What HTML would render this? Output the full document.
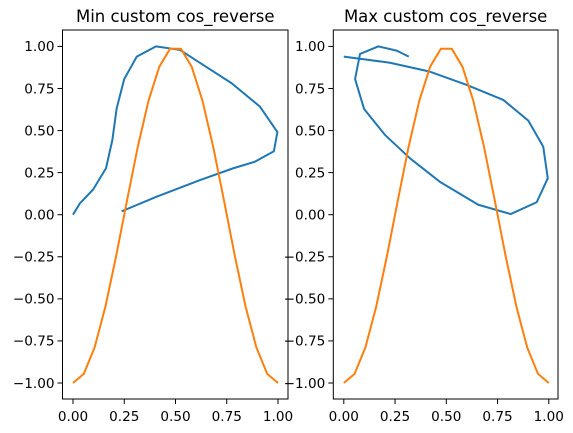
<!DOCTYPE html>
<html><head><meta charset="utf-8"><style>
html,body{margin:0;padding:0;background:#fff;}
svg{display:block;font-family:"DejaVu Sans","Liberation Sans",sans-serif;}
</style></head><body>
<svg id="fig" width="573" height="433" viewBox="0 0 573 433" xmlns="http://www.w3.org/2000/svg"></svg>
<script>
const orangeX = [0,0.0526,0.1053,0.1579,0.2105,0.2632,0.3158,0.3684,0.4211,0.4737,0.5263,0.5789,0.6316,0.6842,0.7368,0.7895,0.8421,0.8947,0.9474,1];
const orangeY = [-1,-0.9458,-0.7891,-0.5469,-0.2455,0.0826,0.4017,0.6773,0.8795,0.9864,0.9864,0.8795,0.6773,0.4017,0.0826,-0.2455,-0.5469,-0.7891,-0.9458,-1];
const minBlueX = [0.0,0.034,0.099,0.161,0.192,0.213,0.25,0.311,0.405,0.522,0.636,0.774,0.912,0.997,0.98,0.888,0.782,0.62,0.408,0.237];
const minBlueY = [0.0,0.068,0.151,0.276,0.444,0.632,0.806,0.939,1.0,0.979,0.889,0.781,0.642,0.491,0.377,0.315,0.276,0.206,0.107,0.02];
const maxBlueX = [0.0,0.225,0.42,0.6,0.778,0.9,0.973,0.995,0.941,0.814,0.656,0.468,0.323,0.201,0.099,0.055,0.079,0.168,0.258,0.317];
const maxBlueY = [0.939,0.903,0.85,0.771,0.682,0.559,0.404,0.216,0.074,0.004,0.059,0.196,0.335,0.474,0.628,0.806,0.955,1.0,0.975,0.939];
const xTicks = [0,0.25,0.5,0.75,1.0];
const xTickLabels = ["0.00","0.25","0.50","0.75","1.00"];
const yTicks = [1,0.75,0.5,0.25,0,-0.25,-0.5,-0.75,-1];
const yTickLabels = ["1.00","0.75","0.50","0.25","0.00","\u22120.25","\u22120.50","\u22120.75","\u22121.00"];
const titles = ["Min custom cos_reverse","Max custom cos_reverse"];

const NS = "http://www.w3.org/2000/svg";
const svgEl = document.getElementById('fig');
function mk(tag, attrs, parent){const e=document.createElementNS(NS,tag);for(const k in attrs)e.setAttribute(k,attrs[k]);(parent||svgEl).appendChild(e);return e;}

const panels = [
  {left:62.5,right:288,x0:73,bx:minBlueX,by:minBlueY,name:'min'},
  {left:333.3,right:558,x0:343.8,bx:maxBlueX,by:maxBlueY,name:'max'}
];
const axTop=30,axBottom=399,xs=205,y0=214.7,ys=168.3;

panels.forEach((p,i)=>{
  const g=mk('g',{});
  
  
  const X=v=>p.x0+v*xs, Y=v=>y0-v*ys;
  const t=mk('text',{x:(p.left+p.right)/2,y:22,'text-anchor':'middle','font-size':'16.5',fill:'#000'},g);
  t.textContent=titles[i];
  
  
  const b=mk('polyline',{points:p.bx.map((v,k)=>X(v)+','+Y(p.by[k])).join(' '),fill:'none',stroke:'#1f77b4','stroke-width':2,'stroke-linejoin':'round'},g);
  
  
  const o=mk('polyline',{points:orangeX.map((v,k)=>X(v)+','+Y(orangeY[k])).join(' '),fill:'none',stroke:'#ff7f0e','stroke-width':2,'stroke-linejoin':'round'},g);
  
  
  const fr=mk('rect',{x:p.left,y:axTop,width:p.right-p.left,height:axBottom-axTop,fill:'none',stroke:'#000','stroke-width':1},g);
  
  
  xTicks.forEach((v,k)=>{
    mk('line',{x1:X(v),x2:X(v),y1:axBottom,y2:axBottom+5,stroke:'#000','stroke-width':1},g);
    const tl=mk('text',{x:X(v),y:axBottom+22,'text-anchor':'middle','font-size':'13.6',fill:'#000'},g);
    tl.textContent=xTickLabels[k];
    
    
  });
  yTicks.forEach((v,k)=>{
    mk('line',{x1:p.left-5,x2:p.left,y1:Y(v),y2:Y(v),stroke:'#000','stroke-width':1},g);
    const tl=mk('text',{x:p.left-8,y:Y(v)+4.8,'text-anchor':'end','font-size':'13.6',fill:'#000'},g);
    tl.textContent=yTickLabels[k];
    
    
  });
});
</script>
</body></html>
